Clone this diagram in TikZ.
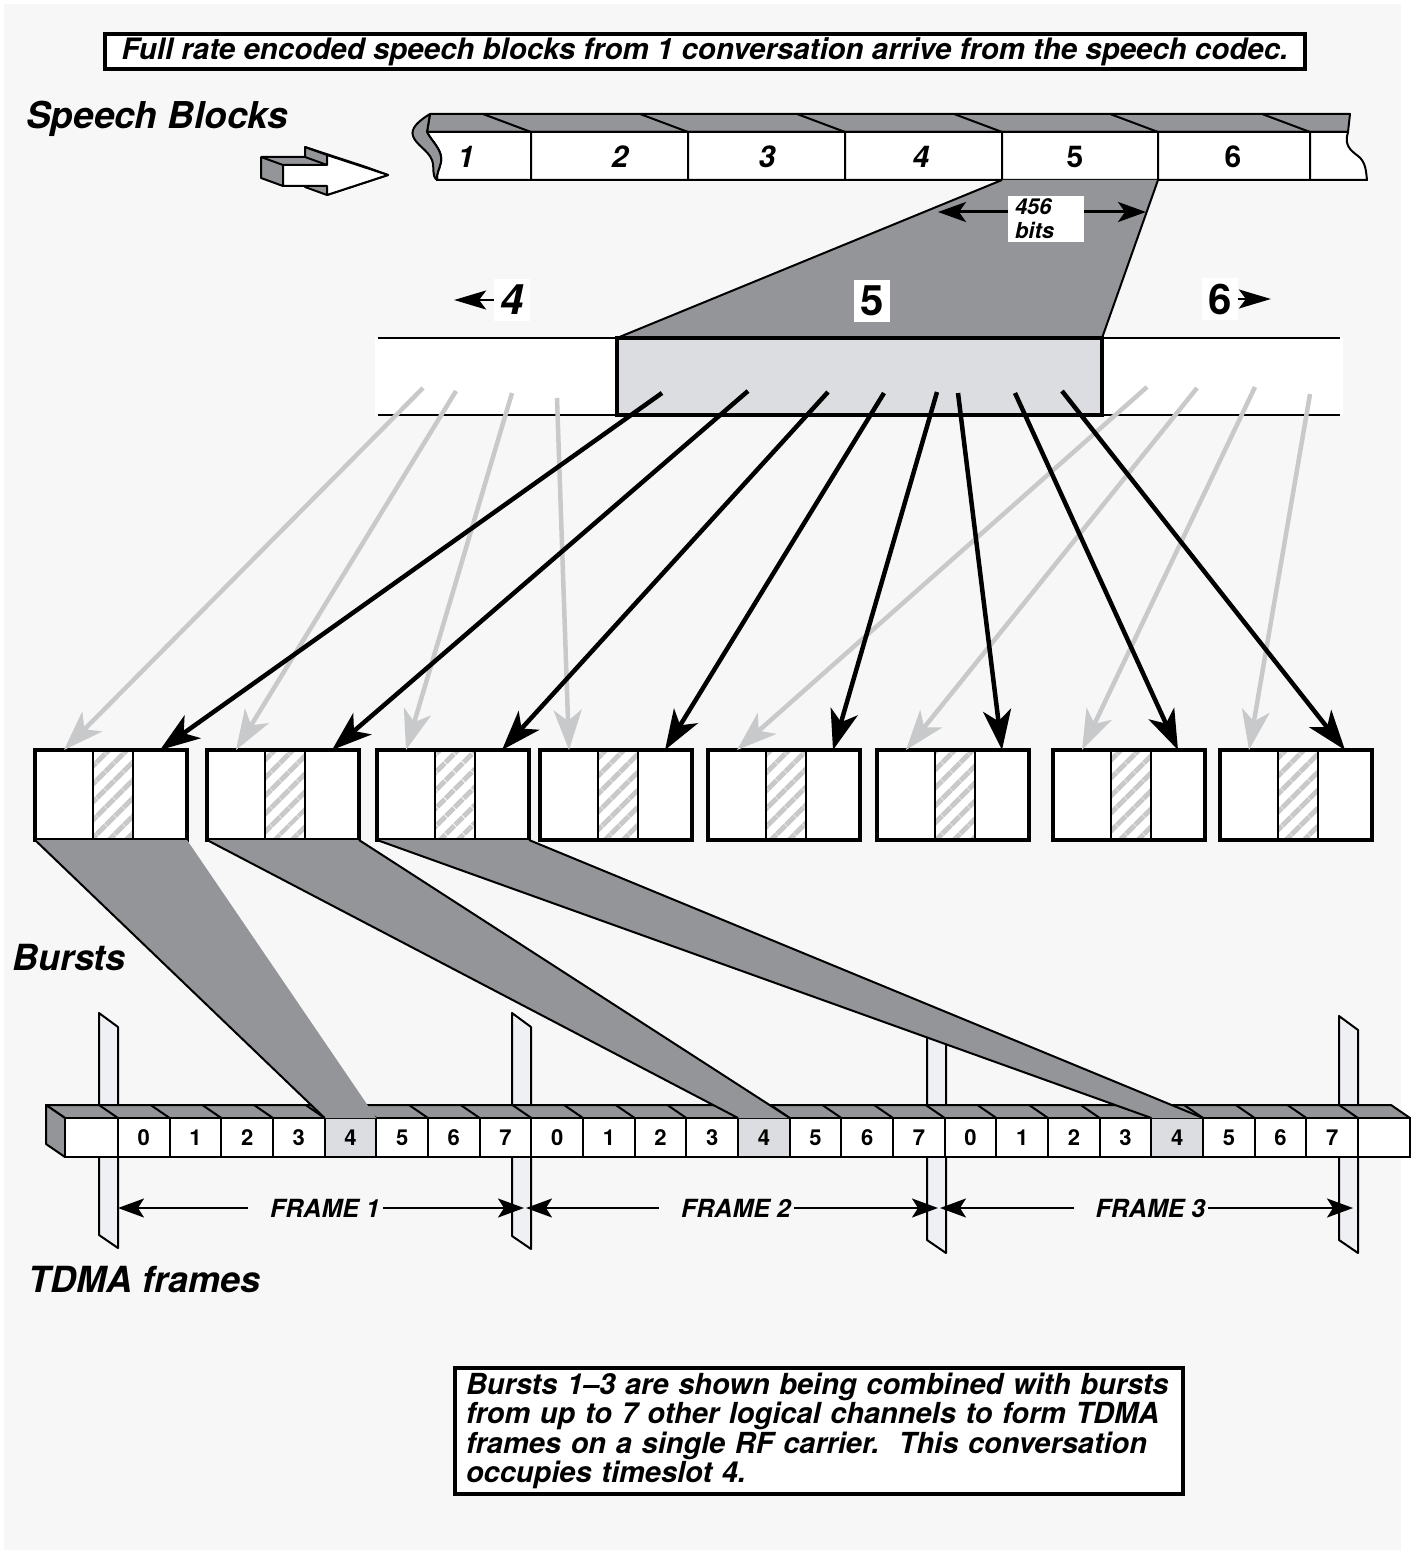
\documentclass[tikz,border=0pt]{standalone}
\usepackage{fontspec}
\setmainfont{TeX Gyre Heros}
\usepackage{xcolor}
\usepackage{tikz}
\usetikzlibrary{arrows.meta, positioning, patterns.meta}

\definecolor{paper}{HTML}{F7F7F7}
\definecolor{steel}{HTML}{939598}
\definecolor{pale}{HTML}{DCDDE0}
\definecolor{glass}{HTML}{EEF0F3}
\definecolor{ghost}{HTML}{C8C9CB}

\begin{document}
\begin{tikzpicture}[
    x=1pt, y=-1pt,
    caption/.style={font=\fontsize{36}{40}\selectfont\bfseries\itshape, anchor=west, inner sep=0},
    notebox/.style={draw, line width=4pt, fill=white, inner sep=0, font=\bfseries\itshape},
    digit/.style={font=\fontsize{30}{32}\selectfont\bfseries, inner sep=0},
    tag/.style={fill=white, inner sep=6pt, font=\fontsize{42}{44}\selectfont\bfseries},
    cell/.style={rectangle, draw, line width=2.5pt, fill=white, minimum height=90pt, inner sep=0, outer sep=0},
    hatched/.style={cell, preaction={fill=white}, pattern={Lines[angle=45,distance=13pt,line width=5.5pt]}, pattern color=ghost},
    slot/.style={rectangle, draw, line width=2pt, minimum width=51.67pt, minimum height=39pt, inner sep=0, outer sep=0, font=\fontsize{22}{23}\selectfont\bfseries},
    ink/.style={line width=4.5pt, -{Stealth[length=40pt,width=28pt,inset=11pt]}},
    mist/.style={ink, draw=ghost},
    span/.style={line width=3pt, {Stealth[length=28pt,width=20pt,inset=7pt]}-{Stealth[length=28pt,width=20pt,inset=7pt]}},
    dim/.style={line width=2pt, {Stealth[length=26pt,width=19pt,inset=6pt]}-{Stealth[length=26pt,width=19pt,inset=6pt]}},
    framelabel/.style={fill=paper, inner xsep=3pt, xshift=-5.5pt, font=\fontsize{25}{27}\selectfont\bfseries\itshape},
    nudge/.style={line width=2pt, -{Stealth[length=32pt,width=19pt,inset=7pt]}},
    face/.style={fill=steel, draw, line width=2pt, line join=round},
    plane/.style={fill=glass, draw, line width=2pt, line join=round}
  ]

    % Page
    \useasboundingbox (0,0) rectangle (1424,1554);
    \fill[paper] (4,4) rectangle (1401,1550);

    % Heading and captions
    \node[notebox, minimum width=1200pt, minimum height=35pt, font=\fontsize{29.5}{31}\selectfont\bfseries\itshape] (intro) at (705,52) {Full rate encoded speech blocks from 1 conversation arrive from the speech codec.};
    \node[caption, font=\fontsize{37}{40}\selectfont\bfseries\itshape] (speech) at (26,119) {Speech Blocks};
    \node[caption] (bursts) at (12,958) {Bursts};
    \node[caption] (tdma) at (28,1280) {TDMA frames};

    % Incoming block arrow
    \filldraw[face] (261,157) -- (305,157) -- (305,147) -- (366,167) -- (388,175) -- (327,195) -- (305,187) -- (305,186) -- (283,186) -- (261,178) -- cycle;
    \filldraw[fill=white, line width=2pt, line join=round] (283,165) -- (327,165) -- (327,155) -- (388,175) -- (327,195) -- (327,186) -- (283,186) -- cycle;
    \draw[line width=2pt] (261,157) -- (283,165) (305,157) -- (327,165) (305,147) -- (327,155);

    % Speech block stream
    \filldraw[face] (430,114) -- (1350,114) -- (1348,132) -- (427,132) -- cycle;
    \filldraw[fill=white, line width=2pt, line join=round] (427,132) -- (1348,132) .. controls (1344,145) and (1350,150) .. (1358,156) .. controls (1366,162) and (1366,172) .. (1367,180) -- (437,180) .. controls (436,174) and (440,168) .. (441,162) .. controls (443,150) and (432,142) .. (427,132) -- cycle;
    \filldraw[face] (430,114) .. controls (420,120) and (410,128) .. (413,136) .. controls (416,145) and (428,150) .. (432,160) .. controls (435,168) and (431,175) .. (437,180) .. controls (436,174) and (440,168) .. (441,162) .. controls (443,150) and (432,142) .. (427,132) -- cycle;
    \foreach \x in {531,688,845,1002,1158,1310}
      \draw[line width=2pt] (\x,132) -- (\x,180) (\x,132) -- (\x-48,114);
    \foreach \x/\n in {466/1, 620/2, 767/3, 921/4}
      \node[digit, font=\fontsize{30}{32}\selectfont\bfseries\itshape] (n\n) at (\x,157) {\n};
    \foreach \x/\n in {1075/5, 1233/6}
      \node[digit] (n\n) at (\x,157) {\n};

    % Block 5 spread out
    \fill[steel] (1002,180) -- (1158,180) -- (1102,338) -- (617,338) -- cycle;
    \draw[line width=2pt] (1002,180) -- (617,338) (1158,180) -- (1102,338);
    \coordinate (w456) at (938,212);
    \coordinate (e456) at (1146,212);
    \draw[span] (w456) -- (e456);
    \node[fill=white, align=left, text width=62pt, inner xsep=7pt, inner ysep=3pt, font=\fontsize{22}{24}\selectfont\bfseries\itshape] (bits) at (1046,219) {456\\bits};

    % Interleaving band
    \fill[white] (375,338) rectangle (1343,415);
    \draw[line width=2.5pt] (378,338) -- (1340,338) (378,415) -- (1340,415);
    \node[draw, line width=4.5pt, fill=pale, minimum width=485pt, minimum height=77pt, inner sep=0] (five) at (859.5,376.5) {};

    \node[tag, font=\fontsize{42}{44}\selectfont\bfseries\itshape] (four) at (512,300) {4};
    \node[tag] (mid) at (872,301) {5};
    \node[tag] (six) at (1220,299) {6};
    \coordinate[left=40pt of four.west] (four-tip);
    \coordinate[right=33pt of six.east] (six-tip);
    \draw[nudge] (four.west) -- (four-tip);
    \draw[nudge] (six.east) -- (six-tip);

    % Bursts
    \foreach \x [count=\i] in {35,207,377,540,708,877,1053,1220} {
      \node[cell, minimum width=58pt, anchor=north west] (l\i) at (\x,750) {};
      \node[hatched, minimum width=40pt, right=0pt of l\i] (m\i) {};
      \node[cell, minimum width=54pt, right=0pt of m\i] (r\i) {};
      \draw[line width=4.5pt] (l\i.north west) rectangle (r\i.south east);
    }

    % Arrows - neighbouring blocks to bursts
    \foreach \x/\y [count=\i] in {423/388, 456/391, 512/393, 557/398, 1147/387, 1197/388, 1255/387, 1310/394}
      \coordinate (g\i) at (\x,\y);
    \foreach \i in {1,...,8}
      \draw[mist] (g\i) -- (l\i.north);

    % Arrows - block 5 to bursts
    \foreach \x/\y [count=\i] in {662/393, 748/391, 828/392, 884/393, 937/392, 958/393, 1015/393, 1062/391}
      \coordinate (k\i) at (\x,\y);
    \foreach \i in {1,...,8}
      \draw[ink] (k\i) -- (r\i.north);

    % Frame boundaries
    \foreach \x/\t/\b in {118/1027/1248, 531/1027/1249, 946/1040/1253, 1358/1030/1253}
      \draw[plane] (\x,\t) -- (\x-19,\t-14) -- (\x-19,\b-13) -- (\x,\b) -- cycle;

    % TDMA carrier
    \filldraw[face] (46,1105) -- (1391,1105) -- (1410,1118) -- (65,1118) -- cycle;
    \filldraw[face] (46,1105) -- (65,1118) -- (65,1157) -- (46,1144) -- cycle;
    \node[slot, fill=white, minimum width=53pt, anchor=north east] (lead) at (118,1118) {};
    \foreach \f in {1,2,3}
      \foreach \k in {0,...,7} {
        \pgfmathsetmacro\sx{118+((\f-1)*8+\k)*51.67}
        \ifnum\k=4 \def\tone{pale}\else\def\tone{white}\fi
        \node[slot, fill=\tone, anchor=north west] (s\f\k) at (\sx,1118) {\k};
        \draw[line width=2pt] (s\f\k.north west) -- ++(-19,-13);
      }
    \node[slot, fill=white, minimum width=52pt, anchor=north west] (tail) at (1358,1118) {};
    \draw[line width=2pt] (tail.north west) -- ++(-19,-13);

    % Bursts into timeslot 4
    \fill[steel] (l1.south west) -- (r1.south east) -- (s14.north east) -- (s14.north west) -- cycle;
    \draw[line width=2pt] (l1.south west) -- (s14.north west);
    \fill[steel] (l2.south west) -- (r2.south east) -- (s24.north east) -- (s24.north west) -- cycle;
    \draw[line width=2pt] (l2.south west) -- (s24.north west) (r2.south east) -- (s24.north east);
    \fill[steel] (l3.south west) -- (r3.south east) -- (s34.north east) -- (s34.north west) -- cycle;
    \draw[line width=2pt] (l3.south west) -- (s34.north west) (r3.south east) -- (s34.north east);

    % Frame spans
    \coordinate (fa) at (118,1208);
    \coordinate (fb) at (524,1208);
    \coordinate (fc) at (526,1208);
    \coordinate (fd) at (938,1208);
    \coordinate (fe) at (940,1208);
    \coordinate (ff) at (1353,1208);
    \draw[dim] (fa) -- node[framelabel] (fr1) {\hspace{19pt}FRAME 1} (fb);
    \draw[dim] (fc) -- node[framelabel] (fr2) {\hspace{19pt}FRAME 2} (fd);
    \draw[dim] (fe) -- node[framelabel] (fr3) {\hspace{19pt}FRAME 3} (ff);

    % Closing note
    \node[notebox, text width=706pt, align=left, inner xsep=11pt, inner ysep=5pt, font=\fontsize{29}{29.5}\selectfont\bfseries\itshape] (note) at (819,1431) {Bursts 1--3 are shown being combined with bursts\\from up to 7 other logical channels to form TDMA\\frames on a single RF carrier.\ \ This conversation\\occupies timeslot 4.};

  \end{tikzpicture}
\end{document}
